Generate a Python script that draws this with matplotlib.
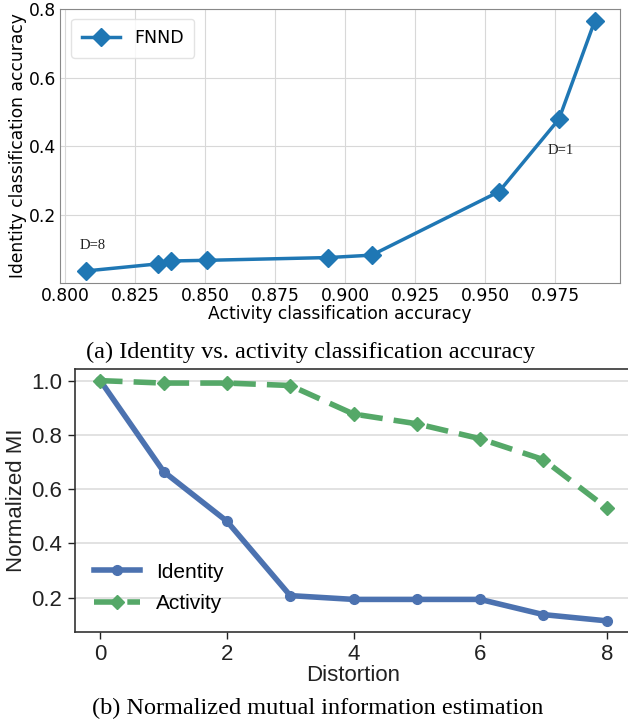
import matplotlib
matplotlib.use('Agg')
import matplotlib.pyplot as plt

# (a) identity vs activity accuracy, one point per distortion level
act_acc = [0.8074, 0.8330, 0.8378, 0.8508, 0.8940, 0.9095, 0.9550, 0.9764, 0.9892]
id_acc = [0.037, 0.0575, 0.066, 0.068, 0.076, 0.083, 0.268, 0.479, 0.765]
label_a = 'FNND'
notes = [('D=8', 0.8097, 0.111), ('D=1', 0.9770, 0.387)]

# (b) normalized MI vs distortion
distortion = [0, 1, 2, 3, 4, 5, 6, 7, 8]
mi_identity = [1.0, 0.665, 0.482, 0.208, 0.194, 0.194, 0.194, 0.138, 0.115]
mi_activity = [1.0, 0.991, 0.991, 0.982, 0.877, 0.841, 0.786, 0.709, 0.531]

fig = plt.figure(figsize=(6.28, 7.25), dpi=100)

# ---- top panel, plain matplotlib look
ax1 = fig.add_axes([0.0955, 0.6097, 0.8917, 0.378])
ax1.plot(act_acc, id_acc, color='#1f77b4', lw=2.5, marker='D', ms=9.5, label=label_a)
for txt, x, y in notes:
    ax1.text(x, y, txt, family='Liberation Serif', fontsize=10.5, ha='center', va='center', color='#222222')
ax1.set_xlim(0.7981, 0.9982)
ax1.set_ylim(0.002, 0.8)
ax1.set_yticks([0.2, 0.4, 0.6, 0.8])
ax1.set_xticks([0.800, 0.825, 0.850, 0.875, 0.900, 0.925, 0.950, 0.975])
ax1.grid(True, color='#d8d8d8', lw=0.8)
for s in ax1.spines.values():
    s.set_color('#888888')
ax1.tick_params(length=0, labelsize=12.3, pad=3)
ax1.set_xlabel('Activity classification accuracy', fontsize=12.3, labelpad=0)
ax1.set_ylabel('Identity classification accuracy', fontsize=12.3, labelpad=1)
ax1.legend(loc='upper left', fontsize=12.5, edgecolor='#dddddd', handlelength=2.2,
           borderpad=0.6, bbox_to_anchor=(0.005, 0.995))

fig.text(0.494, 0.5145, '(a) Identity vs. activity classification accuracy',
         family='Liberation Serif', fontsize=17.5, ha='center', va='center')

# ---- bottom panel, seaborn-like look
ax2 = fig.add_axes([0.1194, 0.1283, 0.887, 0.3628])
ax2.plot(distortion, mi_identity, color='#4C72B0', lw=4, marker='o', ms=7, label='Identity')
ax2.plot(distortion, mi_activity, color='#55A868', lw=4, ls='--', dashes=(4, 2), marker='D', ms=7, label='Activity')
ax2.set_xlim(-0.4, 8.4)
ax2.set_ylim(0.074, 1.043)
ax2.set_xticks([0, 2, 4, 6, 8])
ax2.set_yticks([0.2, 0.4, 0.6, 0.8, 1.0])
ax2.yaxis.grid(True, color='#dddddd', lw=1.2)
ax2.set_axisbelow(True)
for s in ax2.spines.values():
    s.set_color('#333333')
    s.set_linewidth(1.2)
ax2.tick_params(labelsize=16, colors='#222222', length=5, width=1, pad=4)
ax2.set_xlabel('Distortion', fontsize=16, color='#222222', labelpad=0)
ax2.set_ylabel('Normalized MI', fontsize=16, color='#222222', labelpad=3)
for lab in ax2.get_xticklabels() + ax2.get_yticklabels() + [ax2.xaxis.label, ax2.yaxis.label]:
    lab.set_family('Liberation Sans')
leg = ax2.legend(loc='lower left', frameon=False, prop={'family': 'Liberation Sans', 'size': 15},
                 handlelength=2.2, bbox_to_anchor=(0.0, 0.0), labelspacing=0.6)

fig.text(0.506, 0.0234, '(b) Normalized mutual information estimation',
         family='Liberation Serif', fontsize=17.5, ha='center', va='center')

fig.savefig('out.png', dpi=100)
